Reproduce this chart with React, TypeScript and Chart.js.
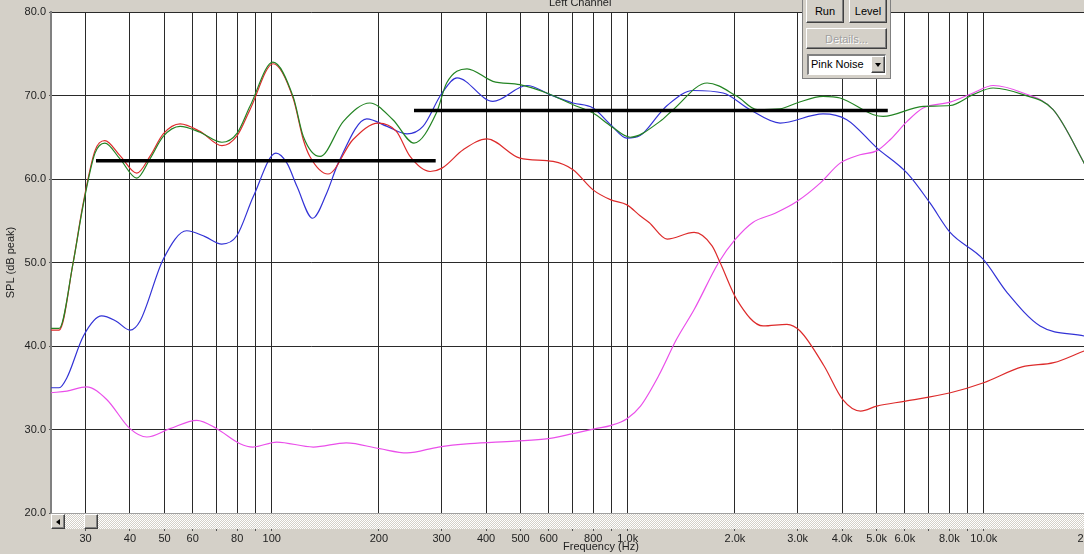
import { useEffect, useRef } from "react"
import type { CSSProperties } from "react"
import { Chart, registerables } from "chart.js"

Chart.register(...registerables)

const FONT = "'Liberation Sans', Arial, sans-serif"

// [frequency Hz, SPL dB]
const totalSpl: [number, number][] = [
  [24, 42.1], [25.3, 42.1], [27.7, 50.0], [29.5, 56.7], [31.9, 63.1], [34.0, 64.3],
  [37.5, 62.4], [41.8, 60.1], [45.5, 62.4], [49.6, 65.1], [55.3, 66.3], [62.9, 65.6],
  [72.5, 64.4], [80, 65.5], [86.9, 68.7], [100.8, 74.0], [115, 69.8], [122.7, 65.1],
  [136.7, 62.7], [159, 66.9], [188.8, 69.1], [219, 67.1], [251, 64.3], [290, 67.9],
  [310, 71.5], [353.7, 73.2], [418, 71.7], [498, 71.3], [592, 70.3], [702, 68.9],
  [799, 67.9], [900, 66.3], [1015, 65.0], [1232, 66.9], [1341, 68.3], [1671, 71.5],
  [2028, 69.9], [2308, 68.3], [2678, 68.4], [2985, 69.1], [3537, 69.9], [3948, 69.7],
  [4900, 67.7], [5213, 67.5], [6753, 68.7], [8041, 68.8], [9330, 70.1], [10620, 70.9],
  [12895, 70.1], [15655, 68.3], [19130, 61.9], [20000, 60.3],
]

const wooferSpl: [number, number][] = [
  [24, 41.9], [25.3, 41.9], [27.7, 50.0], [29.5, 56.9], [31.9, 63.4], [34.0, 64.6],
  [37.5, 62.8], [41.8, 60.7], [45.5, 62.7], [49.6, 65.4], [55.3, 66.6], [62.9, 65.7],
  [72.5, 64.0], [80, 65.2], [86.9, 68.3], [101, 73.8], [115, 69.6], [122.7, 64.7],
  [128, 62.7], [143.9, 60.6], [169, 64.7], [199.3, 66.7], [224, 65.7], [244.7, 62.7],
  [278.5, 60.9], [300.8, 61.3], [345, 63.5], [402.5, 64.8], [498, 62.5], [617, 62.1],
  [702, 61.1], [799, 58.7], [897, 57.5], [995, 56.9], [1083, 55.6], [1148, 54.8],
  [1290, 52.8], [1536, 53.6], [1725, 52.0], [1817, 50.0], [2028, 45.5], [2400, 42.4],
  [2800, 42.6], [3048, 41.8], [3560, 37.6], [4012, 33.6], [4508, 32.2], [5005, 32.8],
  [6026, 33.4], [8058, 34.4], [9986, 35.6], [12812, 37.5], [15714, 38.0], [19130, 39.4],
  [20000, 39.7],
]

const midSpl: [number, number][] = [
  [24, 35.0], [25.3, 35.0], [26.6, 36.2], [29.6, 41.2], [33.3, 43.6], [36.5, 43.0],
  [40, 41.9], [42.7, 43.0], [49.6, 50.4], [57.7, 53.8], [65, 53.1], [72.4, 52.2],
  [79.8, 53.2], [88.8, 57.9], [102.8, 63.1], [110.4, 61.9], [117.8, 59.1], [130.3, 55.3],
  [142.7, 58.3], [153.8, 61.9], [184.9, 67.2], [210.9, 66.3], [240, 65.4], [266, 66.3],
  [300.8, 70.3], [331.6, 72.1], [418, 69.3], [521, 71.2], [605, 70.1], [702, 69.1],
  [799, 68.5], [900, 66.4], [994, 64.9], [1083, 65.2], [1232, 67.9], [1290, 68.8],
  [1526, 70.6], [1853, 70.3], [2206, 68.3], [2678, 66.7], [3537, 67.8], [4123, 67.1],
  [5015, 63.7], [6091, 60.7], [7067, 57.1], [8041, 53.6], [9954, 50.4], [11628, 46.4],
  [14391, 42.4], [19130, 41.2], [20000, 41.0],
]

const tweeterSpl: [number, number][] = [
  [24, 34.4], [26.6, 34.6], [30.2, 35.1], [34.4, 33.6], [40, 30.1], [44.6, 29.1],
  [51.8, 30.1], [61.6, 31.1], [70.1, 30.1], [81.5, 28.3], [88.6, 27.9], [103.3, 28.5],
  [130.9, 27.9], [162, 28.4], [201, 27.7], [240, 27.2], [294, 27.9], [360, 28.3],
  [482, 28.6], [599, 28.9], [702, 29.5], [812, 30.1], [899, 30.5], [995, 31.3],
  [1086, 32.8], [1220, 36.4], [1371, 40.8], [1538, 44.4], [1800, 50.0], [1998, 52.7],
  [2245, 54.8], [2594, 55.9], [2985, 57.3], [3470, 59.5], [3948, 61.9], [4493, 62.9],
  [5015, 63.4], [5456, 64.7], [6091, 66.9], [6753, 68.5], [8041, 69.2], [9330, 70.3],
  [10620, 71.2], [12895, 70.3], [15655, 68.3], [19130, 61.9], [20000, 60.3],
]

const lowTarget: [number, number][] = [[32.1, 62.2], [288.8, 62.2]]
const highTarget: [number, number][] = [[251, 68.2], [5374, 68.2]]

const freqTicks = [
  30, 40, 50, 60, 70, 80, 90, 100, 200, 300, 400, 500, 600, 700, 800, 900,
  1000, 2000, 3000, 4000, 5000, 6000, 7000, 8000, 9000, 10000, 20000,
]
const unlabeledFreqs = [70, 90, 700, 900, 7000, 9000]

const freqLabel = (v: number) => {
  if (unlabeledFreqs.includes(v)) return ""
  return v >= 1000 ? (v / 1000).toFixed(1) + "k" : String(v)
}

const plotBackground = {
  id: "plotBackground",
  beforeDraw(chart: Chart) {
    const { ctx, chartArea } = chart
    ctx.save()
    ctx.fillStyle = "#ffffff"
    ctx.fillRect(chartArea.left, chartArea.top, chartArea.right - chartArea.left, chartArea.bottom - chartArea.top)
    ctx.restore()
  },
}

function trace(label: string, pairs: [number, number][], color: string, width = 1.2) {
  return {
    label,
    data: pairs.map(([x, y]) => ({ x, y })),
    borderColor: color,
    borderWidth: width,
    pointRadius: 0,
    cubicInterpolationMode: "monotone" as const,
    fill: false,
  }
}

function ResponseChart() {
  const canvasRef = useRef<HTMLCanvasElement>(null)
  const chartRef = useRef<Chart | null>(null)

  useEffect(() => {
    if (!canvasRef.current) return
    if (chartRef.current) chartRef.current.destroy()

    chartRef.current = new Chart(canvasRef.current, {
      type: "line",
      data: {
        datasets: [
          trace("low target", lowTarget, "#000000", 3.5),
          trace("high target", highTarget, "#000000", 3.5),
          trace("total", totalSpl, "#238423"),
          trace("woofer", wooferSpl, "#dd2b2b"),
          trace("mid", midSpl, "#3232d6"),
          trace("tweeter", tweeterSpl, "#ea4fea"),
        ],
      },
      options: {
        responsive: false,
        animation: false,
        layout: { padding: { top: 12, right: 19, bottom: 0, left: 0 } },
        plugins: { legend: { display: false }, tooltip: { enabled: false } },
        scales: {
          x: {
            type: "logarithmic",
            min: 24,
            max: 20000,
            afterBuildTicks: (scale: any) => {
              scale.ticks = freqTicks.map((value) => ({ value }))
            },
            afterFit: (scale: any) => {
              scale.height = 41
            },
            grid: { color: "#2a2a2a", lineWidth: 1, tickLength: 18, tickColor: "#555555" },
            border: { display: false },
            ticks: {
              autoSkip: false,
              maxRotation: 0,
              padding: 1,
              color: "#222222",
              font: { family: FONT, size: 11 },
              callback: (value: any) => freqLabel(Number(value)),
            },
          },
          y: {
            min: 20,
            max: 80,
            afterFit: (scale: any) => {
              scale.width = 51
            },
            grid: { color: "#2a2a2a", lineWidth: 1, tickLength: 2, tickColor: "#555555" },
            border: { display: true, color: "#808080", width: 2 },
            ticks: {
              stepSize: 10,
              padding: 3,
              color: "#222222",
              font: { family: FONT, size: 11 },
              callback: (value: any) => Number(value).toFixed(1),
            },
            title: {
              display: true,
              text: "SPL (dB peak)",
              color: "#222222",
              font: { family: FONT, size: 11 },
              padding: { top: 4, bottom: 0 },
            },
          },
        },
      },
      plugins: [plotBackground],
    } as any)

    return () => {
      if (chartRef.current) {
        chartRef.current.destroy()
        chartRef.current = null
      }
    }
  }, [])

  return <canvas ref={canvasRef} width={1110} height={554} style={{ position: "absolute", left: 0, top: 0 }} />
}

// classic Windows 3D button look
const raised: CSSProperties = {
  position: "absolute",
  boxSizing: "border-box",
  background: "#d4d0c8",
  borderTop: "1px solid #ffffff",
  borderLeft: "1px solid #ffffff",
  borderRight: "1px solid #404040",
  borderBottom: "1px solid #404040",
  boxShadow: "inset -1px -1px 0 #808080",
  display: "flex",
  alignItems: "center",
  justifyContent: "center",
  fontFamily: FONT,
  fontSize: 11,
  color: "#000",
}

function ControlPanel() {
  return (
    <div
      style={{
        position: "absolute",
        left: 802,
        top: -2,
        width: 89,
        height: 81,
        boxSizing: "border-box",
        background: "#d4d0c8",
        borderLeft: "1px solid #808080",
        borderRight: "1px solid #808080",
        borderBottom: "1px solid #808080",
      }}
    >
      <div style={{ ...raised, left: 3, top: -2, width: 38, height: 27, paddingTop: 2 }}>Run</div>
      <div style={{ ...raised, left: 46, top: -2, width: 38, height: 27, paddingTop: 2 }}>Level</div>
      <div style={{ ...raised, left: 3, top: 30, width: 81, height: 21, color: "#a0a0a0", textShadow: "1px 1px 0 #ffffff" }}>
        Details...
      </div>
      <div
        style={{
          position: "absolute",
          left: 4,
          top: 56,
          width: 79,
          height: 21,
          boxSizing: "border-box",
          background: "#ffffff",
          borderTop: "2px solid #808080",
          borderLeft: "2px solid #808080",
          borderRight: "1px solid #ffffff",
          borderBottom: "1px solid #ffffff",
          fontFamily: FONT,
          fontSize: 11,
          lineHeight: "17px",
          paddingLeft: 2,
          color: "#000",
        }}
      >
        Pink Noise
        <div style={{ ...raised, right: 0, top: 0, width: 14, height: 17 }}>
          <div style={{ width: 0, height: 0, borderLeft: "3.5px solid transparent", borderRight: "3.5px solid transparent", borderTop: "4px solid #000" }} />
        </div>
      </div>
    </div>
  )
}

function ScrollBar() {
  return (
    <div
      style={{
        position: "absolute",
        left: 51,
        top: 513,
        width: 1040,
        height: 16,
        background: "repeating-conic-gradient(#ffffff 0 25%, #d4d0c8 0 50%) 0 0 / 2px 2px",
        borderTop: "1px solid #a0a0a0",
        boxSizing: "border-box",
      }}
    >
      <div style={{ ...raised, left: 0, top: 0, width: 14, height: 15 }}>
        <div style={{ width: 0, height: 0, borderTop: "3.5px solid transparent", borderBottom: "3.5px solid transparent", borderRight: "4px solid #000" }} />
      </div>
      <div style={{ ...raised, left: 33, top: 0, width: 14, height: 15 }} />
    </div>
  )
}

const caption: CSSProperties = {
  position: "absolute",
  fontFamily: FONT,
  fontSize: 11,
  lineHeight: "11px",
  color: "#222222",
  whiteSpace: "nowrap",
}

export default function App() {
  return (
    <div
      style={{
        position: "fixed",
        left: 0,
        top: 0,
        width: 1084,
        height: 554,
        overflow: "hidden",
        background: "#d4d0c8",
      }}
    >
      <ResponseChart />
      <div style={{ ...caption, left: 549, top: -3 }}>Left Channel</div>
      <div style={{ ...caption, left: 563, top: 541 }}>Frequency (Hz)</div>
      <ScrollBar />
      <ControlPanel />
    </div>
  )
}
